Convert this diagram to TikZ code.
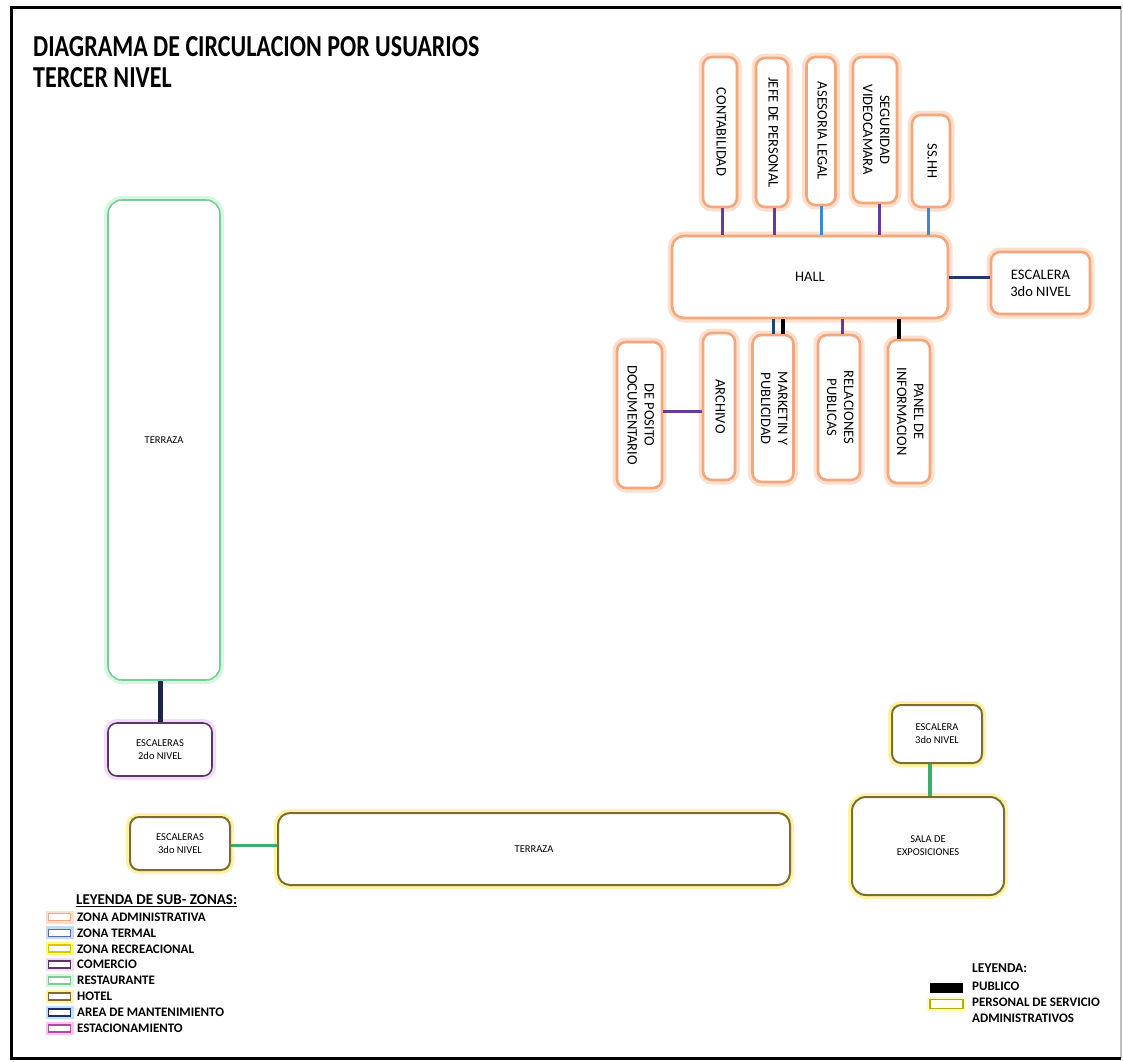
\documentclass[tikz,border=0pt]{standalone}
\usepackage{fontspec}
\setmainfont{Carlito}
\usepackage{graphicx}
\definecolor{admc}{HTML}{F2A77C}
\definecolor{admg}{HTML}{FCE0CD}
\definecolor{grnc}{HTML}{7ACB98}
\definecolor{grng}{HTML}{D6F6E3}
\definecolor{purc}{HTML}{5A3566}
\definecolor{purg}{HTML}{F3DCF6}
\definecolor{hotc}{HTML}{7D6E2E}
\definecolor{hotg}{HTML}{FFF2A6}
\definecolor{terc}{HTML}{4F6FA8}
\definecolor{terg}{HTML}{C8DAF0}
\definecolor{recc}{HTML}{D9C800}
\definecolor{recg}{HTML}{FFFF7A}
\definecolor{manc}{HTML}{1F2F5F}
\definecolor{mang}{HTML}{BFE0FF}
\definecolor{estc}{HTML}{B04AA0}
\definecolor{estg}{HTML}{FFC2F0}
\definecolor{linepurp}{HTML}{6A3A9A}
\definecolor{lineblue}{HTML}{3A8AD0}
\definecolor{linegreen}{HTML}{3BAE6E}
\definecolor{linenavy}{HTML}{1B2350}
\newcommand{\vtxt}[1]{\rotatebox{-90}{\begin{tabular}{@{}c@{}}#1\end{tabular}}}
\begin{document}
\begin{tikzpicture}[x=1pt,y=-1pt,
  boxbase/.style={rounded corners=9pt, fill=white, inner sep=0pt, align=center},
  bigtxt/.style={font=\fontsize{14.5}{17}\selectfont},
  smalltxt/.style={font=\fontsize{10.5}{13}\selectfont},
  admbox/.style={boxbase, bigtxt, draw=admc, line width=2.6pt, preaction={draw=admg, line width=9pt}},
  grnbox/.style={boxbase, smalltxt, draw=grnc, line width=1.6pt, preaction={draw=grng, line width=8pt}},
  purbox/.style={boxbase, smalltxt, draw=purc, line width=1.6pt, preaction={draw=purg, line width=8pt}},
  hotbox/.style={boxbase, smalltxt, draw=hotc, line width=2pt, preaction={draw=hotg, line width=8pt}},
  cpurp/.style={draw=linepurp, line width=3pt},
  cblue/.style={draw=lineblue, line width=3pt},
  cblack/.style={draw=black, line width=3.5pt},
  cgreen/.style={draw=linegreen, line width=3.5pt},
  cnavy/.style={draw=linenavy, line width=5pt},
  swatch/.style={minimum width=22pt, minimum height=7pt, inner sep=0pt, fill=white, line width=1.8pt},
  legtxt/.style={anchor=west, inner sep=0pt, font=\fontsize{13}{14}\selectfont\bfseries}
]
\useasboundingbox (0,0) rectangle (1123,1061);
\fill[white] (0,0) rectangle (1123,1061);
% frame
\draw[black!25, line width=1.5pt] (1121,7) -- (1121,1058);
\draw[black, line width=3pt] (1121,7) -- (11,7) -- (11,1058) -- (1121,1058);

% title
\node[anchor=base west, inner sep=0pt, font=\fontsize{24}{26}\selectfont\bfseries] (title1) at (33,56) {\scalebox{1}[1.27]{DIAGRAMA DE CIRCULACION POR USUARIOS}};
\node[anchor=base west, inner sep=0pt, font=\fontsize{24}{26}\selectfont\bfseries] (title2) at (33,87) {\scalebox{1}[1.27]{TERCER NIVEL}};

% administrative cluster
\node[admbox, minimum width=34pt, minimum height=150pt] (conta) at (720,132) {\vtxt{CONTABILIDAD}};
\node[admbox, minimum width=32pt, minimum height=149pt] (jefe) at (772,132.5) {\vtxt{JEFE DE PERSONAL}};
\node[admbox, minimum width=29pt, minimum height=148pt] (ases) at (821,131) {\vtxt{ASESORIA LEGAL}};
\node[admbox, minimum width=44pt, minimum height=146pt] (segu) at (875,130) {\vtxt{SEGURIDAD\\VIDEOCAMARA}};
\node[admbox, minimum width=38pt, minimum height=92pt] (sshh) at (931,161) {\vtxt{SS.HH}};
\node[admbox, minimum width=276pt, minimum height=82pt, rounded corners=12pt] (hall) at (810,277) {HALL};
\node[admbox, minimum width=99pt, minimum height=62pt] (escr) at (1040.5,283) {ESCALERA\\3do NIVEL};
\node[admbox, minimum width=45pt, minimum height=146pt] (depo) at (639.5,415) {\vtxt{DE POSITO\\DOCUMENTARIO}};
\node[admbox, minimum width=32pt, minimum height=147pt] (arch) at (719,406.5) {\vtxt{ARCHIVO}};
\node[admbox, minimum width=41pt, minimum height=147pt] (mkt) at (773,408.5) {\vtxt{MARKETIN Y\\PUBLICIDAD}};
\node[admbox, minimum width=42pt, minimum height=145pt] (rel) at (839,407.5) {\vtxt{RELACIONES\\PUBLICAS}};
\node[admbox, minimum width=42pt, minimum height=143pt] (panel) at (909,411.5) {\vtxt{PANEL DE\\INFORMACION}};

% connectors of the cluster
\draw[cpurp] ([xshift=2pt]conta.south) -- ([xshift=2pt]conta.south |- hall.north);
\draw[cpurp] ([xshift=2pt]jefe.south) -- ([xshift=2pt]jefe.south |- hall.north);
\draw[cblue] (ases.south) -- (ases.south |- hall.north);
\draw[cpurp] ([xshift=4pt]segu.south) -- ([xshift=4pt]segu.south |- hall.north);
\draw[cblue] ([xshift=-3pt]sshh.south) -- ([xshift=-3pt]sshh.south |- hall.north);
\draw[draw=linenavy!80!lineblue, line width=3pt] (hall.east) -- (hall.east -| escr.west);
\draw[draw=linenavy!70!lineblue, line width=3pt] (mkt.north) -- (mkt.north |- hall.south);
\draw[cblack] ([xshift=10pt]mkt.north) -- ([xshift=10pt]mkt.north |- hall.south);
\draw[cpurp] ([xshift=3pt]rel.north) -- ([xshift=3pt]rel.north |- hall.south);
\draw[cblack] ([xshift=-10pt]panel.north) -- ([xshift=-10pt]panel.north |- hall.south);
\draw[cpurp] ([yshift=4pt]depo.east) -- ([yshift=4pt]depo.east -| arch.west);

% left terrace
\node[grnbox, minimum width=112pt, minimum height=480pt, rounded corners=14pt] (terv) at (164,440) {TERRAZA};
\node[purbox, minimum width=104pt, minimum height=53pt] (esc2) at (160,749.5) {ESCALERAS\\2do NIVEL};
\draw[cnavy] (esc2.north) -- (esc2.north |- terv.south);

% bottom
\node[hotbox, minimum width=100pt, minimum height=53pt] (esc3l) at (180,843.5) {ESCALERAS\\3do NIVEL};
\node[hotbox, minimum width=512pt, minimum height=72pt, rounded corners=12pt] (terh) at (534,849) {TERRAZA};
\draw[cgreen] ([yshift=-2pt]esc3l.east) -- ([yshift=-2pt]esc3l.east -| terh.west);
\node[hotbox, minimum width=90pt, minimum height=58pt] (esc3r) at (937,734) {ESCALERA\\3do NIVEL};
\node[hotbox, minimum width=152pt, minimum height=98pt, rounded corners=14pt] (sala) at (928,846) {SALA DE\\EXPOSICIONES};
\draw[cgreen] ([xshift=2pt]sala.north) -- ([xshift=2pt]sala.north |- esc3r.south);

% legend of sub-zones
\node[anchor=west, inner sep=0pt, font=\fontsize{15}{16}\selectfont\bfseries] (legh) at (76,901) {\underline{LEYENDA DE SUB- ZONAS:}};
\foreach \i/\t/\c/\g in {1/ZONA ADMINISTRATIVA/admc/admg, 2/ZONA TERMAL/terc/terg, 3/ZONA RECREACIONAL/recc/recg, 4/COMERCIO/purc/purg, 5/RESTAURANTE/grnc/grng, 6/HOTEL/hotc/hotg, 7/AREA DE MANTENIMIENTO/manc/mang, 8/ESTACIONAMIENTO/estc/estg} {
  \node[swatch, draw=\c, preaction={draw=\g, line width=6pt}] (sw\i) at (59.5,{917+(\i-1)*15.9}) {};
  \node[legtxt] (lt\i) at (77,{917+(\i-1)*15.9}) {\t};
}

% legend of users
\node[legtxt, font=\fontsize{13.5}{15}\selectfont\bfseries] (leg2) at (972,968) {LEYENDA:};
\node[fill=black, minimum width=33pt, minimum height=10pt, inner sep=0pt] (pubsw) at (946.5,987.5) {};
\node[legtxt] (pub) at (972,986) {PUBLICO};
\node[draw=recc!80!black!90, fill=yellow!6, line width=1.5pt, minimum width=33pt, minimum height=9pt, inner sep=0pt, preaction={draw=recg!60, line width=6pt}] (perssw) at (946.5,1004) {};
\node[legtxt] (pers1) at (972,1002) {PERSONAL DE SERVICIO};
\node[legtxt] (pers2) at (972,1018) {ADMINISTRATIVOS};
\end{tikzpicture}
\end{document}
